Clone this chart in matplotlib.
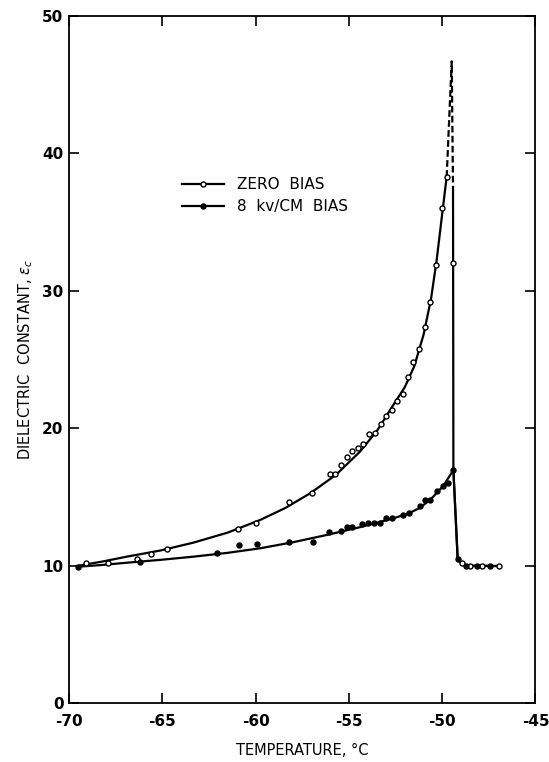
import matplotlib
matplotlib.use('Agg')
import matplotlib.pyplot as plt
from matplotlib.lines import Line2D

# measured points, zero bias (open circles)
zero_t = [-69.09, -67.89, -66.37, -65.61, -64.73, -60.93, -59.98, -58.19, -56.96,
          -56.01, -55.73, -55.42, -55.12, -54.82, -54.53, -54.23, -53.94, -53.60,
          -53.30, -53.01, -52.71, -52.44, -52.12, -51.82, -51.55, -51.23, -50.92,
          -50.65, -50.33, -50.03, -49.76, -49.44,
          -48.96, -48.51, -47.88, -46.96]
zero_eps = [10.19, 10.21, 10.48, 10.84, 11.21, 12.66, 13.12, 14.61, 15.31,
            16.69, 16.64, 17.30, 17.90, 18.32, 18.54, 18.87, 19.60, 19.63,
            20.33, 20.92, 21.32, 22.00, 22.49, 23.70, 24.84, 25.74, 27.34,
            29.15, 31.88, 36.00, 38.30, 32.00,
            10.17, 9.97, 9.97, 9.97]

# measured points, 8 kV/cm bias (filled circles)
bias_t = [-69.50, -66.20, -62.08, -60.89, -59.91, -58.19, -56.94, -56.05, -55.44,
          -55.12, -54.82, -54.31, -53.96, -53.65, -53.33, -53.01, -52.71, -52.08,
          -51.76, -51.19, -50.92, -50.65, -50.26, -49.94, -49.67, -49.40,
          -49.17, -48.72, -48.15, -47.44]
bias_eps = [9.92, 10.28, 10.90, 11.50, 11.55, 11.74, 11.74, 12.47, 12.54,
            12.79, 12.83, 13.03, 13.08, 13.12, 13.12, 13.44, 13.44, 13.68,
            13.81, 14.34, 14.77, 14.77, 15.45, 15.79, 16.03, 16.96,
            10.46, 9.99, 9.97, 9.97]

# hand-drawn curves
zero_curve_t = [-69.46, -68.2, -66.91, -65.1, -63.34, -61.5, -59.76, -58.4, -57.08,
                -55.7, -54.41, -53.5, -52.62, -52.0, -51.5, -51.0, -50.6, -50.3,
                -50.0, -49.76]
zero_curve_eps = [10.0, 10.3, 10.65, 11.1, 11.67, 12.4, 13.32, 14.2, 15.26,
                  16.6, 18.29, 19.8, 21.69, 23.0, 24.5, 26.8, 29.4, 32.2,
                  35.6, 38.3]
dash_t = [-49.76, -49.49, -49.42]
dash_eps = [38.3, 46.7, 37.5]
drop_t = [-49.42, -49.40, -49.17, -48.96, -48.72, -46.96]
drop_eps = [37.5, 16.96, 10.46, 10.17, 9.99, 9.97]

bias_curve_t = [-69.5, -68.2, -66.91, -65.1, -63.34, -61.5, -59.76, -58.0, -56.19,
                -54.4, -52.62, -51.8, -51.2, -50.6, -49.94, -49.4,
                -49.17, -48.96, -48.72, -46.96]
bias_curve_eps = [9.92, 10.05, 10.21, 10.42, 10.65, 10.93, 11.26, 11.7, 12.23,
                  12.8, 13.44, 13.8, 14.2, 14.85, 15.8, 16.96,
                  10.46, 10.17, 9.99, 9.97]

x_ticks = [-70, -65, -60, -55, -50, -45]
y_ticks = [0, 10, 20, 30, 40, 50]


def main():
    plt.rcParams['font.family'] = ['DejaVu Sans']
    fig = plt.figure(figsize=(5.49, 7.62), dpi=100)
    ax = fig.add_axes([0.1257, 0.0774, 0.8497, 0.9016])

    lw = 1.6
    ax.plot(zero_curve_t, zero_curve_eps, color='black', lw=lw)
    ax.plot(dash_t, dash_eps, color='black', lw=lw, linestyle=(0, (3, 1.5)))
    ax.plot(drop_t, drop_eps, color='black', lw=lw)
    ax.plot(bias_curve_t, bias_curve_eps, color='black', lw=lw)

    ax.plot(zero_t, zero_eps, linestyle='none', marker='o', ms=3.6, mfc='white',
            mec='black', mew=1.0, zorder=3)
    ax.plot(bias_t, bias_eps, linestyle='none', marker='o', ms=3.6, mfc='black',
            mec='black', mew=1.0, zorder=3)

    handles = [
        Line2D([], [], color='black', lw=1.6, marker='o', ms=3.6, mfc='white', mec='black'),
        Line2D([], [], color='black', lw=1.6, marker='o', ms=3.6, mfc='black', mec='black'),
    ]
    ax.legend(handles, ['ZERO  BIAS', '8  kv/CM  BIAS'], loc='upper left',
              bbox_to_anchor=(0.2416, 0.765), frameon=False, fontsize=11,
              handlelength=2.75, handletextpad=0.9, labelspacing=0.45,
              borderpad=0, borderaxespad=0, numpoints=1)

    ax.set_xlim(-70, -45)
    ax.set_ylim(0, 50)
    ax.set_xticks(x_ticks)
    ax.set_yticks(y_ticks)
    ax.set_xticklabels([str(t) for t in x_ticks], fontsize=11, fontweight='bold')
    ax.set_yticklabels([str(t) for t in y_ticks], fontsize=11, fontweight='bold')
    ax.tick_params(direction='in', length=7, width=1.2, top=True, right=True)
    ax.tick_params(axis='x', pad=8)
    ax.tick_params(axis='y', pad=4)
    for s in ax.spines.values():
        s.set_linewidth(1.3)

    ax.set_xlabel('TEMPERATURE, \u00b0C', fontsize=10.5, labelpad=10)
    ax.set_ylabel(r'DIELECTRIC  CONSTANT, $\epsilon_c$', fontsize=10.5, labelpad=5)

    fig.savefig('out.png', dpi=100)


if __name__ == "__main__":
    main()
